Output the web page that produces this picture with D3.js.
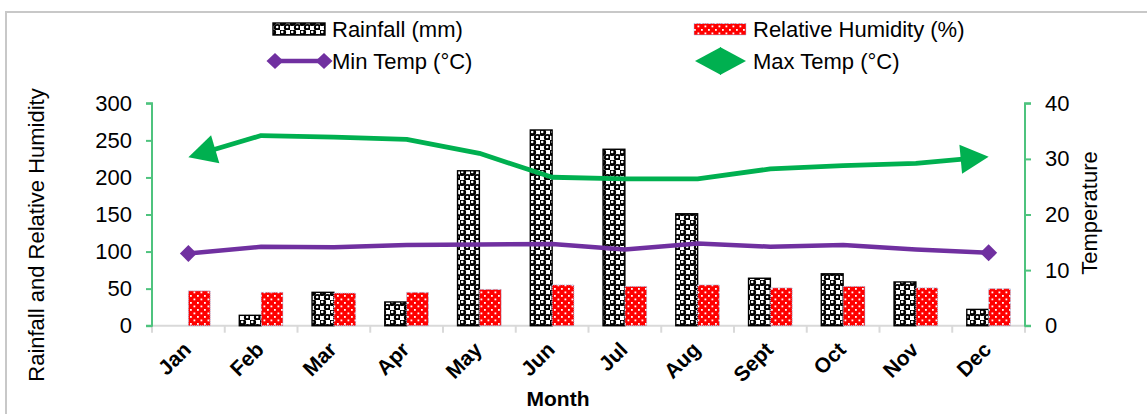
<!DOCTYPE html>
<html>
<head>
<meta charset="utf-8">
<script src="https://cdn.jsdelivr.net/npm/d3@7"></script>
<style>
  html, body { margin: 0; padding: 0; background: #fff; }
  svg { display: block; font-family: "Liberation Sans", Arial, sans-serif; }
</style>
</head>
<body>
<svg id="chart" width="1147" height="414"></svg>
<script>
// Monthly climate data
const months = ["Jan", "Feb", "Mar", "Apr", "May", "Jun", "Jul", "Aug", "Sept", "Oct", "Nov", "Dec"];
const rainfall = [0, 14, 45, 32, 209, 264, 238, 151, 64, 70, 59, 22];
const humidity = [47, 45, 44, 45, 49, 55, 53, 55, 51, 53, 51, 50];
const minTemp = [13.0, 14.2, 14.1, 14.5, 14.6, 14.7, 13.7, 14.8, 14.2, 14.5, 13.7, 13.1];
const maxTemp = [30.3, 34.2, 33.9, 33.5, 31.0, 26.7, 26.4, 26.4, 28.2, 28.8, 29.2, 30.4];
const leftTicks = [0, 50, 100, 150, 200, 250, 300];
const rightTicks = [0, 10, 20, 30, 40];

const svg = d3.select("#chart");
const W = 1147, H = 414;
const plot = { left: 152, right: 1025, top: 103.3, bottom: 325.7 };

const axisGreen = "#4ec37e";
const purple = "#7030a0";
const green = "#00b050";

svg.append("rect").attr("width", W).attr("height", H).attr("fill", "#fff");

// ---- fill patterns ----
const defs = svg.append("defs");
const pRain = defs.append("pattern").attr("id", "rainPat")
  .attr("patternUnits", "userSpaceOnUse").attr("width", 10).attr("height", 10);
pRain.append("rect").attr("width", 10).attr("height", 10).attr("fill", "#fff");
[[2.5, 2.5], [7.5, 7.5]].forEach(([px, py]) => {
  pRain.append("circle").attr("cx", px).attr("cy", py).attr("r", 3.6).attr("fill", "#000");
  pRain.append("circle").attr("cx", px - 0.3).attr("cy", py - 0.5).attr("r", 1.3).attr("fill", "#fff");
});

const pHum = defs.append("pattern").attr("id", "humPat")
  .attr("patternUnits", "userSpaceOnUse").attr("width", 7).attr("height", 7);
pHum.append("rect").attr("width", 7).attr("height", 7).attr("fill", "#ff0000");
pHum.append("rect").attr("x", 1).attr("y", 1).attr("width", 1.8).attr("height", 1.8).attr("fill", "#fff");
pHum.append("rect").attr("x", 4.5).attr("y", 4.5).attr("width", 1.8).attr("height", 1.8).attr("fill", "#fff");

// ---- chart border ----
svg.append("line").attr("x1", 6).attr("x2", 6).attr("y1", 11).attr("y2", H)
  .attr("stroke", "#c8c8c8").attr("stroke-width", 2);
svg.append("line").attr("x1", 5).attr("x2", W).attr("y1", 12).attr("y2", 12)
  .attr("stroke", "#c8c8c8").attr("stroke-width", 2);

// ---- scales ----
const x = d3.scaleBand().domain(months).range([plot.left, plot.right]).paddingInner(0).paddingOuter(0);
const yL = d3.scaleLinear().domain([0, 300]).range([plot.bottom, plot.top]);
const yR = d3.scaleLinear().domain([0, 40]).range([plot.bottom, plot.top]);
const bw = x.bandwidth() * 0.3;
const cx = m => x(m) + x.bandwidth() / 2;

// ---- x axis ----
const xAxis = svg.append("g").attr("transform", `translate(0,${plot.bottom})`);
xAxis.append("line").attr("x1", plot.left).attr("x2", plot.right)
  .attr("stroke", "#d9d9d9").attr("stroke-width", 2);
const bounds = months.map(m => x(m)).concat([plot.right]);
xAxis.selectAll("line.tick").data(bounds).join("line").attr("class", "tick")
  .attr("x1", d => d).attr("x2", d => d).attr("y1", 0).attr("y2", 7)
  .attr("stroke", "#d9d9d9").attr("stroke-width", 2);

svg.append("g").selectAll("text").data(months).join("text")
  .attr("transform", d => `translate(${cx(d) + 4},351) rotate(-45)`)
  .attr("text-anchor", "end")
  .attr("font-size", 21).attr("font-weight", "bold").attr("fill", "#000")
  .text(d => d);

svg.append("text").attr("x", 558).attr("y", 406).attr("text-anchor", "middle")
  .attr("font-size", 21).attr("font-weight", "bold").text("Month");

// ---- left axis ----
const gL = svg.append("g").attr("transform", `translate(${plot.left},0)`)
  .call(d3.axisLeft(yL).tickValues(leftTicks).tickSize(6).tickPadding(14));
gL.select(".domain").attr("stroke", axisGreen).attr("stroke-width", 2)
  .attr("d", `M-6,${plot.top}H0V${plot.bottom}H-6`);
gL.selectAll(".tick line").attr("stroke", axisGreen).attr("stroke-width", 2);
gL.selectAll(".tick text").attr("font-size", 22).attr("fill", "#000")
  .attr("font-family", "Liberation Sans, Arial, sans-serif");

svg.append("text").attr("transform", "translate(44,235) rotate(-90)")
  .attr("text-anchor", "middle").attr("font-size", 22).text("Rainfall and Relative Humidity");

// ---- right axis ----
const gR = svg.append("g").attr("transform", `translate(${plot.right},0)`)
  .call(d3.axisRight(yR).tickValues(rightTicks).tickSize(6).tickPadding(14));
gR.select(".domain").attr("stroke", axisGreen).attr("stroke-width", 2)
  .attr("d", `M6,${plot.top}H0V${plot.bottom}H6`);
gR.selectAll(".tick line").attr("stroke", axisGreen).attr("stroke-width", 2);
gR.selectAll(".tick text").attr("font-size", 22).attr("fill", "#000")
  .attr("font-family", "Liberation Sans, Arial, sans-serif");

svg.append("text").attr("transform", "translate(1097,213) rotate(-90)")
  .attr("text-anchor", "middle").attr("font-size", 22).text("Temperature");

// ---- bars ----
const rainData = months.map((m, i) => ({ m, v: rainfall[i] })).filter(d => d.v > 0);
svg.append("g").selectAll("rect").data(rainData).join("rect")
  .attr("x", d => cx(d.m) - bw).attr("width", bw)
  .attr("y", d => yL(d.v)).attr("height", d => yL(0) - yL(d.v))
  .attr("fill", "url(#rainPat)").attr("stroke", "#000").attr("stroke-width", 1.4);

const humData = months.map((m, i) => ({ m, v: humidity[i] }));
svg.append("g").selectAll("rect").data(humData).join("rect")
  .attr("x", d => cx(d.m)).attr("width", bw)
  .attr("y", d => yL(d.v)).attr("height", d => yL(0) - yL(d.v))
  .attr("fill", "url(#humPat)").attr("stroke", "#a9c4e8").attr("stroke-width", 1)
  .attr("stroke-dasharray", "1 1");

// ---- temperature lines ----
const lineGen = d3.line().x(d => cx(d.m)).y(d => yR(d.v)).curve(d3.curveLinear);

function endInfo(path, atStart) {
  const L = path.getTotalLength();
  const a = atStart ? path.getPointAtLength(0) : path.getPointAtLength(L);
  const b = atStart ? path.getPointAtLength(4) : path.getPointAtLength(L - 4);
  return { x: a.x, y: a.y, ang: Math.atan2(a.y - b.y, a.x - b.x) };
}

// Min temp: line with diamond ends
const minData = months.map((m, i) => ({ m, v: minTemp[i] }));
const minPath = svg.append("path").datum(minData).attr("d", lineGen)
  .attr("fill", "none").attr("stroke", purple).attr("stroke-width", 4.5)
  .attr("stroke-linejoin", "round");
const diamond = (px, py, hw, hh) => `M${px - hw},${py}L${px},${py - hh}L${px + hw},${py}L${px},${py + hh}Z`;
[true, false].forEach(s => {
  const e = endInfo(minPath.node(), s);
  svg.append("path").attr("d", diamond(e.x, e.y, 8.5, 8.5)).attr("fill", purple);
});

// Max temp: line with arrowheads at both ends
const maxData = months.map((m, i) => ({ m, v: maxTemp[i] }));
const maxPath = svg.append("path").datum(maxData).attr("d", lineGen)
  .attr("fill", "none").attr("stroke", green).attr("stroke-width", 4.8)
  .attr("stroke-linejoin", "round");
const Lmax = maxPath.node().getTotalLength();
const trim = 12;
maxPath.attr("stroke-dasharray", `0 ${trim} ${Lmax - 2 * trim} ${trim}`);
function arrowHead(tx, ty, ang, len, half) {
  const bx = tx - len * Math.cos(ang), by = ty - len * Math.sin(ang);
  const nx = -Math.sin(ang), ny = Math.cos(ang);
  return `M${tx},${ty}L${bx + nx * half},${by + ny * half}L${bx - nx * half},${by - ny * half}Z`;
}
[true, false].forEach(s => {
  const e = endInfo(maxPath.node(), s);
  svg.append("path").attr("d", arrowHead(e.x, e.y, e.ang, 28, 14.5)).attr("fill", green);
});

// ---- legend ----
const lg = svg.append("g").attr("font-size", 22);
lg.append("rect").attr("x", 273).attr("y", 23).attr("width", 52).attr("height", 12)
  .attr("fill", "url(#rainPat)").attr("stroke", "#000").attr("stroke-width", 1.4);
lg.append("text").attr("x", 332).attr("y", 36.5).text("Rainfall (mm)");

lg.append("rect").attr("x", 694).attr("y", 23.5).attr("width", 52).attr("height", 11.5)
  .attr("fill", "url(#humPat)").attr("stroke", "#a9c4e8").attr("stroke-width", 1)
  .attr("stroke-dasharray", "1 1");
lg.append("text").attr("x", 753).attr("y", 36.5).text("Relative Humidity (%)");

lg.append("line").attr("x1", 275).attr("x2", 324).attr("y1", 61).attr("y2", 61)
  .attr("stroke", purple).attr("stroke-width", 4.5);
lg.append("path").attr("d", diamond(275, 61, 8.5, 8)).attr("fill", purple);
lg.append("path").attr("d", diamond(324, 61, 8.5, 8)).attr("fill", purple);
lg.append("text").attr("x", 332).attr("y", 68.5).text("Min Temp (°C)");

lg.append("line").attr("x1", 705).attr("x2", 736).attr("y1", 61).attr("y2", 61)
  .attr("stroke", green).attr("stroke-width", 4.8);
lg.append("path").attr("d", arrowHead(695, 61, Math.PI, 26, 14)).attr("fill", green);
lg.append("path").attr("d", arrowHead(746, 61, 0, 26, 14)).attr("fill", green);
lg.append("text").attr("x", 753).attr("y", 68.5).text("Max Temp (°C)");
</script>
</body>
</html>
